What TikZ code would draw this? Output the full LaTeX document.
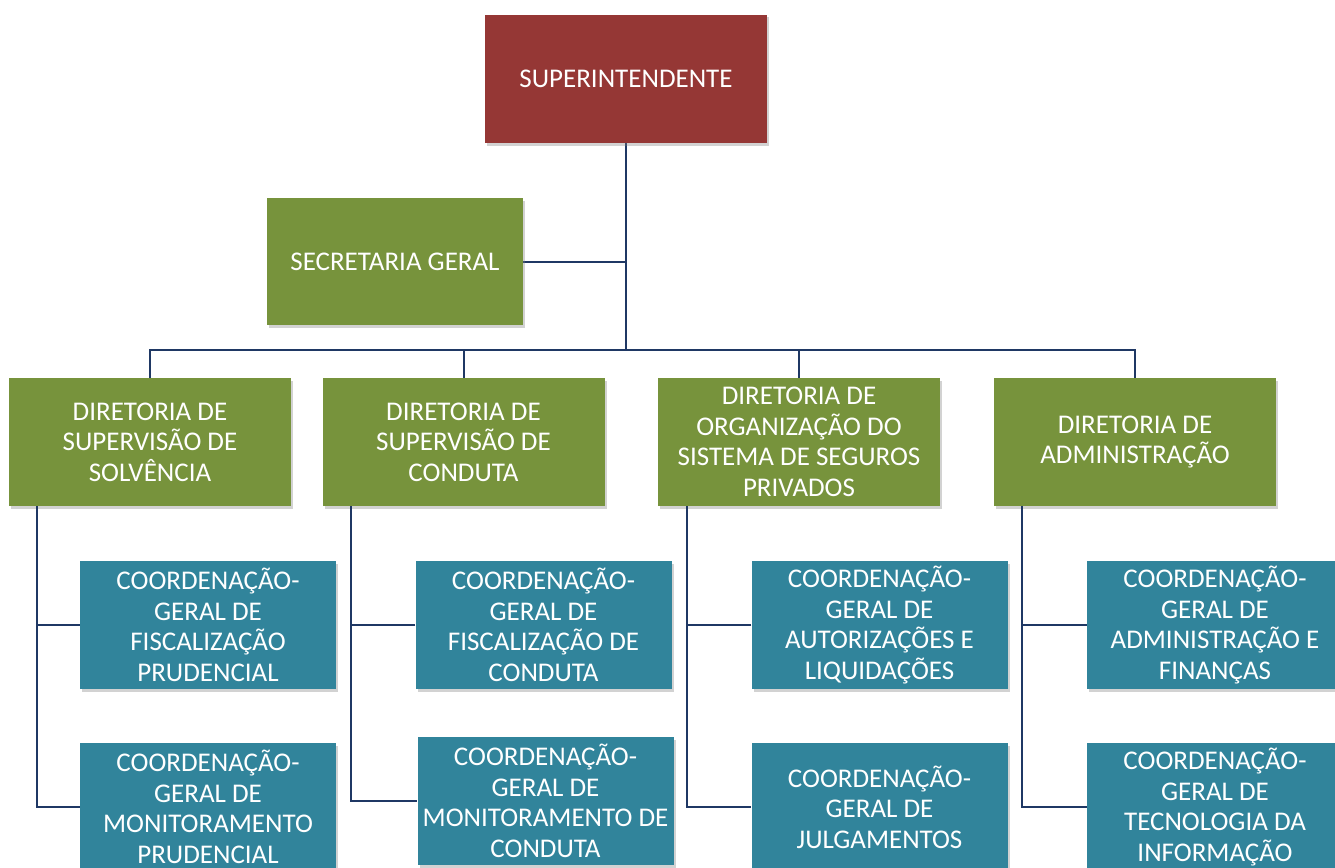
\documentclass[tikz,border=0pt]{standalone}
\usepackage{fontspec}
\setmainfont{Carlito}
\usetikzlibrary{shadows}
\definecolor{supred}{HTML}{953735}
\definecolor{dirgreen}{HTML}{77933C}
\definecolor{coordteal}{HTML}{31849B}
\definecolor{linenavy}{HTML}{1F3864}
\begin{document}
\begin{tikzpicture}[x=1pt,y=-1pt,
  box/.style={draw=none,align=center,text=white,inner sep=0pt,
    font=\fontsize{27}{30.5}\selectfont,
    drop shadow={opacity=0.35,shadow xshift=2pt,shadow yshift=-2.5pt}},
  supbox/.style={box,fill=supred,minimum width=282pt,minimum height=128pt},
  dirbox/.style={box,fill=dirgreen,minimum width=282pt,minimum height=128pt},
  secbox/.style={box,fill=dirgreen,minimum width=256pt,minimum height=127pt},
  cobox/.style={box,fill=coordteal,minimum width=256pt,minimum height=128pt},
  conn/.style={draw=linenavy,line width=2pt}]
\useasboundingbox (0,0) rectangle (1335,867);
\clip (0,0) rectangle (1335,867);
\fill[white] (0,0) rectangle (1335,867);

\coordinate (bus) at (626,350);
\coordinate (s1) at (37,506);
\coordinate (s2) at (351,506);
\coordinate (s3) at (687,506);
\coordinate (s4) at (1022,506);

% connectors (drawn first, under boxes)
\path[conn] (626,143) -- (bus);
\path[conn] (523,261.5) -- (626,261.5);
\path[conn] (150,378) |- (bus) -| (1135,378);
\path[conn] (463.5,378) -- (463.5,350);
\path[conn] (799,378) -- (799,350);

\node[supbox] (sup) at (626,79) {SUPERINTENDENTE};
\node[secbox] (sec) at (395,261.5) {SECRETARIA GERAL};

\node[dirbox] (d1) at (150,442) {DIRETORIA DE\\SUPERVISÃO DE\\SOLVÊNCIA};
\node[dirbox] (d2) at (463.5,442) {DIRETORIA DE\\SUPERVISÃO DE\\CONDUTA};
\node[dirbox] (d3) at (799,442) {DIRETORIA DE\\ORGANIZAÇÃO DO\\SISTEMA DE SEGUROS\\PRIVADOS};
\node[dirbox] (d4) at (1135,442) {DIRETORIA DE\\ADMINISTRAÇÃO};

\node[cobox] (c1a) at (208,625) {COORDENAÇÃO-\\GERAL DE\\FISCALIZAÇÃO\\PRUDENCIAL};
\node[cobox] (c1b) at (208,807) {COORDENAÇÃO-\\GERAL DE\\MONITORAMENTO\\PRUDENCIAL};
\node[cobox] (c2a) at (543.5,625) {COORDENAÇÃO-\\GERAL DE\\FISCALIZAÇÃO DE\\CONDUTA};
\node[cobox] (c2b) at (545.5,801) {COORDENAÇÃO-\\GERAL DE\\MONITORAMENTO DE\\CONDUTA};
\node[cobox] (c3a) at (879.5,625) {COORDENAÇÃO-\\GERAL DE\\AUTORIZAÇÕES E\\LIQUIDAÇÕES};
\node[cobox] (c3b) at (879.5,807) {COORDENAÇÃO-\\GERAL DE\\JULGAMENTOS};
\node[cobox] (c4a) at (1215,625) {COORDENAÇÃO-\\GERAL DE\\ADMINISTRAÇÃO E\\FINANÇAS};
\node[cobox] (c4b) at (1215,807) {COORDENAÇÃO-\\GERAL DE\\TECNOLOGIA DA\\INFORMAÇÃO};

% spine connectors
\path[conn] (s1) |- (c1b.west);
\path[conn] (c1a.west) -- (c1a.west -| s1);
\path[conn] (s2) |- (c2b.west);
\path[conn] (c2a.west) -- (c2a.west -| s2);
\path[conn] (s3) |- (c3b.west);
\path[conn] (c3a.west) -- (c3a.west -| s3);
\path[conn] (s4) |- (c4b.west);
\path[conn] (c4a.west) -- (c4a.west -| s4);
\end{tikzpicture}
\end{document}
